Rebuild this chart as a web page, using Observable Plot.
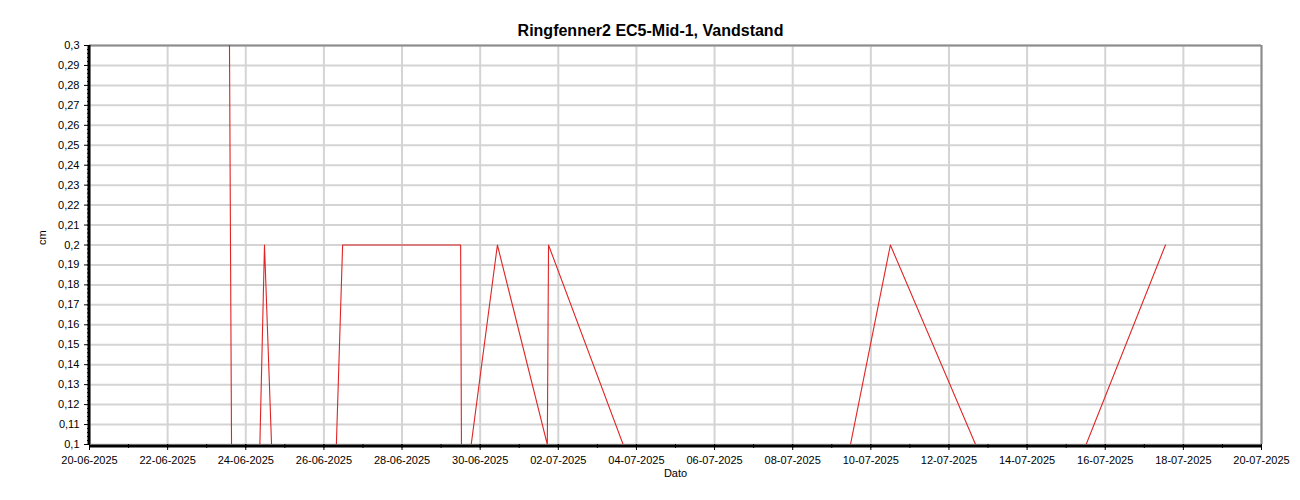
<!DOCTYPE html>
<html><head><meta charset="utf-8">
<script src="https://cdn.jsdelivr.net/npm/d3@7"></script>
<script src="https://cdn.jsdelivr.net/npm/@observablehq/plot@0.6"></script>
<style>body{margin:0;background:#fff;} svg{display:block;}</style>
</head><body><div id="chart"></div>
<script>
// Measurements (UTC timestamps) and water level in cm
const times = [
  "2025-06-23T14:00", "2025-06-23T15:15", "2025-06-24T08:40", "2025-06-24T11:30",
  "2025-06-24T15:50", "2025-06-26T07:40", "2025-06-26T11:30", "2025-06-29T12:00",
  "2025-06-29T12:30", "2025-06-29T18:30", "2025-06-30T10:35", "2025-07-01T17:15",
  "2025-07-01T18:00", "2025-07-03T15:50", "2025-07-09T11:30", "2025-07-10T12:00",
  "2025-07-12T16:20", "2025-07-15T12:15", "2025-07-17T13:00"
];
const values = [
  0.3, 0.1, 0.1, 0.2,
  0.1, 0.1, 0.2, 0.2,
  0.1, 0.1, 0.2, 0.1,
  0.2, 0.1, 0.1, 0.2,
  0.1, 0.1, 0.2
];
const xTickLabels = [
  "20-06-2025", "22-06-2025", "24-06-2025", "26-06-2025", "28-06-2025", "30-06-2025",
  "02-07-2025", "04-07-2025", "06-07-2025", "08-07-2025", "10-07-2025", "12-07-2025",
  "14-07-2025", "16-07-2025", "18-07-2025", "20-07-2025"
];
const yTickValues = [0.1, 0.11, 0.12, 0.13, 0.14, 0.15, 0.16, 0.17, 0.18, 0.19, 0.2,
  0.21, 0.22, 0.23, 0.24, 0.25, 0.26, 0.27, 0.28, 0.29, 0.3];
const titleText = "Ringfenner2 EC5-Mid-1, Vandstand";
const xLabel = "Dato";
const yLabel = "cm";

const parseT = d3.utcParse("%Y-%m-%dT%H:%M");
const parseTick = d3.utcParse("%d-%m-%Y");
const data = times.map((t, i) => ({date: parseT(t), value: values[i]}));
const majorTicks = xTickLabels.map(parseTick);
const minorTicks = d3.utcDay.range(majorTicks[0], d3.utcDay.offset(majorTicks[majorTicks.length - 1], 1));
const yMinor = d3.range(0, 101).map(i => 0.1 + i * 0.002);
const fmtY = d => String(+d.toFixed(2)).replace(".", ",");
const x0 = majorTicks[0], x1 = majorTicks[majorTicks.length - 1];

const chart = Plot.plot({
  width: 1300,
  height: 500,
  marginLeft: 89,
  marginRight: 39,
  marginTop: 45,
  marginBottom: 56,
  style: {fontFamily: "'Liberation Sans', Arial, sans-serif", fontSize: "11px", color: "#000", background: "#fff"},
  x: {type: "utc", domain: [x0, x1], label: null},
  y: {domain: [0.1, 0.3], label: null},
  marks: [
    Plot.gridX(majorTicks, {stroke: "#d4d4d4", strokeOpacity: 1, strokeWidth: 2}),
    Plot.gridY(yTickValues, {stroke: "#d4d4d4", strokeOpacity: 1, strokeWidth: 2}),
    Plot.ruleY([0.3], {stroke: "#8c8c8c", strokeWidth: 2}),
    Plot.ruleX([x1], {stroke: "#8c8c8c", strokeWidth: 2}),
    Plot.axisX(minorTicks, {tickSize: 4, text: null, stroke: "#000", label: null}),
    Plot.axisX(majorTicks, {tickSize: 6, tickPadding: 6, tickFormat: d3.utcFormat("%d-%m-%Y"), fill: "#000", stroke: "#000", fontSize: 11, label: null}),
    Plot.axisY(yMinor, {tickSize: 2, stroke: "#000", text: null, label: null}),
    Plot.axisY(yTickValues, {tickSize: 5, tickPadding: 5, tickFormat: fmtY, fill: "#000", stroke: "#000", fontSize: 11, label: null}),
    Plot.ruleX([x0], {stroke: "#000", strokeWidth: 3, dx: -0.5}),
    Plot.ruleY([0.1], {stroke: "#000", strokeWidth: 3, dy: 1.5}),
    Plot.lineY(data, {x: "date", y: "value", stroke: "#e02424", strokeWidth: 1.1, clip: true}),
    Plot.text([titleText], {frameAnchor: "top", dx: -25, dy: -21, fontSize: 16, fontWeight: "bold", fill: "#000"}),
    Plot.text([xLabel], {frameAnchor: "bottom", dy: 32, fontSize: 11, fill: "#000"}),
    Plot.text([yLabel], {frameAnchor: "left", dx: -47, rotate: -90, fontSize: 11, fill: "#000"})
  ]
});
document.getElementById("chart").appendChild(chart);
</script>
</body></html>
